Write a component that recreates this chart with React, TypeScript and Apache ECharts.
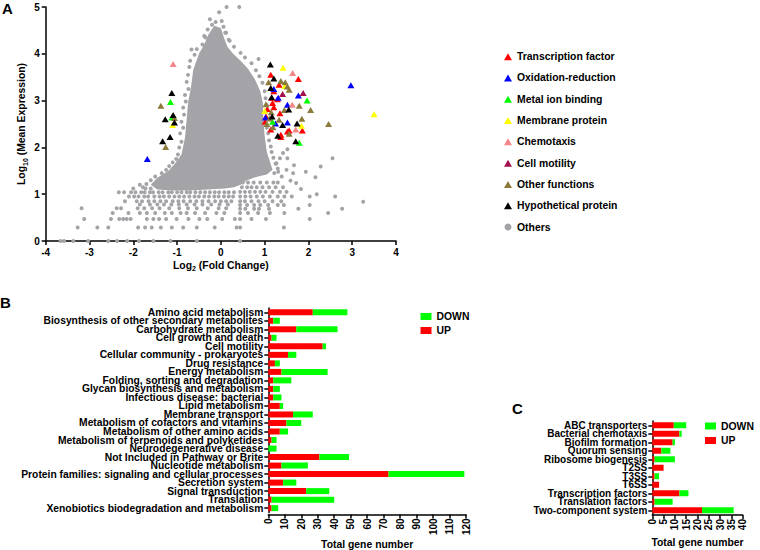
import React, { useEffect, useRef } from 'react';
import * as echarts from 'echarts';

const FONT = 'Liberation Sans, Arial, Helvetica, sans-serif';
const GRAY = '#a4a4a8';

// ---------- Panel A: dense core outline (log2 FC, log10 mean expression)
const CORE: number[][] = [
  [-0.15, 4.6], [0.0, 4.55], [0.07, 4.35], [0.15, 4.15], [0.28, 4.0], [0.45, 3.85], [0.62, 3.68], [0.78, 3.45],
  [0.9, 3.2], [0.96, 2.95], [0.97, 2.6], [1.0, 2.25], [1.05, 1.9], [1.12, 1.7], [1.18, 1.52], [1.05, 1.42],
  [0.85, 1.38], [0.6, 1.3], [0.45, 1.2], [0.3, 1.15], [0.1, 1.12], [-0.3, 1.1], [-0.7, 1.08], [-1.1, 1.08],
  [-1.45, 1.1], [-1.6, 1.2], [-1.45, 1.35], [-1.2, 1.5], [-1.05, 1.65], [-0.9, 1.85], [-0.82, 2.2], [-0.78, 2.6],
  [-0.75, 2.95], [-0.68, 3.3], [-0.63, 3.66], [-0.5, 4.0], [-0.38, 4.2], [-0.28, 4.42],
];

// ---------- Panel A: "Others" genes (grey dots outside the dense core)
const OTHERS_TOP: number[][] = [
  [0.13, 5.0], [0.42, 5.0], [-0.04, 4.89], [-0.25, 4.74], [-0.12, 4.68], [0.02, 4.7], [-0.2, 4.62], [0.06, 4.58],
  [-0.3, 4.52], [0.12, 4.45], [-0.38, 4.38], [0.18, 4.3],
];
const OTHERS_EDGE_L: number[][] = [
  [-0.35, 4.35], [-0.42, 4.2], [-0.55, 4.1], [-0.6, 3.98], [-0.67, 4.09], [-0.7, 3.85], [-0.72, 3.72], [-0.75, 3.55],
  [-0.78, 3.4], [-0.74, 3.25], [-0.82, 3.12], [-0.8, 2.98], [-0.86, 2.85], [-0.84, 2.7], [-0.9, 2.55], [-0.86, 2.42],
  [-0.93, 2.3], [-0.9, 2.12], [-0.95, 2.0], [-0.98, 1.85], [-1.02, 1.75], [-1.1, 1.68], [-1.18, 1.6], [-1.25, 1.52],
  [-1.35, 1.45], [-1.5, 1.38], [-1.6, 1.3], [-1.7, 1.22], [-1.78, 1.15], [-2.0, 1.12], [-1.85, 1.2], [-1.6, 1.12],
  [-1.72, 1.12],
];
const OTHERS_EDGE_R: number[][] = [
  [0.1, 4.45], [0.2, 4.28], [0.3, 4.15], [0.45, 4.02], [0.55, 3.92], [0.7, 3.8], [0.86, 3.89], [0.8, 3.65],
  [0.88, 3.52], [0.95, 3.38], [1.0, 3.2], [1.02, 3.05], [1.05, 2.9], [1.03, 2.75], [1.06, 2.6], [1.05, 2.42],
  [1.08, 2.3], [1.1, 2.15], [1.14, 2.02], [1.16, 1.9], [1.2, 1.78], [1.25, 1.65], [1.3, 1.55], [1.22, 1.45],
];
const OTHERS_RIGHT: number[][] = [
  [2.55, 1.77], [2.28, 1.59], [1.94, 1.48], [2.16, 1.36], [1.67, 1.62], [1.52, 1.96], [1.52, 1.77], [1.72, 1.24],
  [1.83, 1.11], [2.19, 1.0], [2.03, 0.95], [2.61, 0.95], [3.25, 0.84], [2.03, 0.77], [1.77, 0.69], [2.77, 0.69],
  [2.45, 0.6], [2.03, 0.47], [1.03, 0.47], [1.45, 0.6], [1.44, 0.29], [0.44, 0.29], [0.44, 0.0], [1.62, 0.95],
  [1.44, 0.77], [1.27, 1.66], [1.35, 1.77], [1.42, 1.88], [1.5, 1.52], [1.39, 1.38], [1.31, 1.48], [1.65, 1.45],
  [1.59, 1.29],
];
const OTHERS_FAN: number[][] = [
  [0.5, 1.25], [0.62, 1.25], [0.75, 1.25], [0.9, 1.25], [1.05, 1.25], [1.2, 1.25], [1.3, 1.25],
  [0.48, 1.15], [0.6, 1.15], [0.7, 1.15], [0.82, 1.15], [0.95, 1.15], [1.1, 1.15], [1.25, 1.15], [1.42, 1.15],
  [0.44, 1.05], [0.55, 1.05], [0.66, 1.05], [0.78, 1.05], [0.9, 1.05], [1.02, 1.05], [1.18, 1.05], [1.35, 1.05], [1.5, 1.05],
  [0.44, 0.95], [0.56, 0.95], [0.68, 0.95], [0.82, 0.95], [0.96, 0.95], [1.12, 0.95], [1.3, 0.95], [1.45, 0.95],
  [0.44, 0.85], [0.55, 0.85], [0.7, 0.85], [0.86, 0.85], [1.0, 0.85], [1.18, 0.85], [1.38, 0.85],
  [0.44, 0.77], [0.6, 0.77], [0.76, 0.77], [0.9, 0.77], [1.08, 0.77], [1.3, 0.77],
  [0.44, 0.69], [0.56, 0.69], [0.76, 0.69], [0.87, 0.69], [1.1, 0.69],
  [0.44, 0.6], [0.62, 0.6], [0.85, 0.6], [1.12, 0.6], [0.44, 0.47], [0.7, 0.47],
];
const OTHERS_LOW: number[][] = [
  [-2.33, 1.04], [-2.21, 1.04], [-2.05, 1.04], [-1.95, 1.04], [-1.82, 1.04], [-1.74, 1.04], [-1.62, 1.04],
  [-1.55, 1.04], [-1.42, 1.04], [-1.33, 1.04], [-1.2, 1.04], [-1.12, 1.04], [-1.0, 1.04], [-0.9, 1.04],
  [-0.78, 1.04], [-0.7, 1.04], [-0.58, 1.04], [-0.47, 1.04], [-0.36, 1.04], [-0.25, 1.04], [-0.14, 1.04],
  [-0.04, 1.04], [0.08, 1.04], [0.18, 1.04], [0.3, 1.04],
  [-2.1, 0.95], [-1.98, 0.95], [-1.88, 0.95], [-1.75, 0.95], [-1.66, 0.95], [-1.52, 0.95], [-1.4, 0.95],
  [-1.3, 0.95], [-1.18, 0.95], [-1.06, 0.95], [-0.95, 0.95], [-0.84, 0.95], [-0.72, 0.95], [-0.6, 0.95],
  [-0.5, 0.95], [-0.38, 0.95], [-0.27, 0.95], [-0.15, 0.95], [-0.05, 0.95], [0.07, 0.95], [0.18, 0.95], [0.28, 0.95],
  [-2.19, 0.85], [-1.92, 0.85], [-1.8, 0.85], [-1.65, 0.85], [-1.52, 0.85], [-1.38, 0.85], [-1.25, 0.85],
  [-1.1, 0.85], [-0.97, 0.85], [-0.85, 0.85], [-0.7, 0.85], [-0.56, 0.85], [-0.42, 0.85], [-0.28, 0.85],
  [-0.13, 0.85], [0.0, 0.85], [0.12, 0.85], [0.24, 0.85],
  [-1.85, 0.78], [-1.62, 0.78], [-1.45, 0.78], [-1.3, 0.78], [-1.13, 0.78], [-0.96, 0.78], [-0.78, 0.78],
  [-0.6, 0.78], [-0.42, 0.78], [-0.22, 0.78], [-0.03, 0.78], [0.16, 0.78],
  [-3.18, 0.7], [-2.38, 0.7], [-2.28, 0.7], [-1.9, 0.7], [-1.75, 0.7], [-1.57, 0.7], [-1.4, 0.7], [-1.18, 0.7],
  [-0.95, 0.7], [-0.75, 0.7], [-0.55, 0.7], [-0.3, 0.7], [-0.05, 0.7], [0.12, 0.7],
  [-2.47, 0.6], [-2.11, 0.6], [-1.85, 0.6], [-1.69, 0.6], [-1.5, 0.6], [-1.28, 0.6], [-1.12, 0.6], [-0.92, 0.6],
  [-0.78, 0.6], [-0.59, 0.6], [-0.36, 0.6], [-0.1, 0.6], [0.08, 0.6],
  [-3.12, 0.47], [-2.51, 0.47], [-2.32, 0.47], [-2.23, 0.47], [-2.15, 0.47], [-2.06, 0.47], [-1.69, 0.47],
  [-1.54, 0.47], [-1.41, 0.47], [-1.25, 0.47], [-1.01, 0.47], [-0.74, 0.47], [-0.49, 0.47], [-0.31, 0.47],
  [0.03, 0.47], [0.32, 0.47],
  [-3.27, 0.29], [-2.82, 0.29], [-2.57, 0.29], [-1.89, 0.29], [-1.73, 0.29], [-1.58, 0.29], [-1.37, 0.29],
  [-1.12, 0.29], [-0.86, 0.29], [-0.55, 0.29], [-0.14, 0.29], [0.36, 0.29],
  [-3.66, 0], [-3.58, 0], [-3.37, 0], [-3.03, 0], [-2.57, 0], [-2.37, 0], [-2.14, 0], [-1.87, 0], [-1.54, 0],
  [-1.15, 0], [-0.55, 0],
];
const OTHERS: number[][] = [...OTHERS_TOP, ...OTHERS_EDGE_L, ...OTHERS_EDGE_R, ...OTHERS_RIGHT, ...OTHERS_FAN, ...OTHERS_LOW];

// ---------- Panel A: highlighted gene groups
const TF: number[][] = [
  [1.14, 3.55], [1.77, 3.46], [1.33, 3.34], [1.21, 3.2], [1.29, 3.03], [1.16, 3.06], [1.18, 2.95], [1.21, 2.86],
  [1.06, 2.82], [1.35, 2.73], [1.03, 2.66], [1.01, 2.55], [1.14, 2.38], [1.37, 2.27], [1.37, 2.22], [1.52, 2.34],
  [1.56, 2.36], [1.86, 2.36],
];
const OXI: number[][] = [
  [1.21, 3.25], [1.31, 3.06], [1.77, 3.11], [1.52, 2.91], [1.25, 2.51], [1.52, 2.53], [1.02, 2.64], [2.97, 3.33], [-1.68, 1.75],
];
const METAL: number[][] = [[1.97, 3.0], [1.18, 2.55], [1.79, 2.1], [-1.15, 2.97], [-1.12, 2.64]];
const MEMB: number[][] = [[1.42, 3.7], [3.5, 2.71], [1.84, 2.46], [1.46, 3.31], [1.0, 2.78], [-1.1, 2.48]];
const CHEMO: number[][] = [[1.64, 3.59], [1.63, 2.91], [1.71, 2.38], [-1.09, 3.78]];
const MOTIL: number[][] = [[1.88, 3.16], [1.41, 3.14]];
const OTHERF: number[][] = [
  [1.09, 3.39], [1.37, 3.42], [1.47, 3.39], [1.52, 3.3], [1.56, 3.23], [1.03, 2.92], [1.79, 2.89], [2.05, 2.8],
  [1.45, 2.8], [1.11, 2.62], [1.33, 2.59], [1.85, 2.61], [2.46, 2.5], [1.19, 2.43], [1.56, 2.29], [1.05, 2.5],
  [1.15, 2.75], [-1.37, 2.89], [-1.06, 2.63], [-1.26, 2.01],
];
const HYPO: number[][] = [
  [1.13, 3.77], [1.21, 3.47], [1.14, 3.27], [1.16, 3.07], [1.55, 2.81], [1.17, 2.66], [1.74, 2.51], [1.41, 2.48],
  [1.3, 2.25], [1.71, 2.13], [-1.12, 3.16], [-1.09, 2.69], [-1.27, 2.6], [-1.06, 2.53], [-1.16, 2.22], [-1.33, 2.13],
];
const GROUP_NAMES = [
  'Transcription factor', 'Oxidation-reduction', 'Metal ion binding', 'Membrane protein',
  'Chemotaxis', 'Cell motility', 'Other functions', 'Hypothetical protein',
];
const GROUP_DATA = [TF, OXI, METAL, MEMB, CHEMO, MOTIL, OTHERF, HYPO];
const GROUP_COLORS = ['#ff0000', '#0000ff', '#00ff00', '#ffff00', '#f4868a', '#a3124f', '#8c7a3c', '#000000'];
const A_X_TICKS = [-4, 4, 1];
const A_Y_TICKS = [0, 5, 1];

// ---------- Panel B
const B_CATS = [
  'Amino acid metabolism', 'Biosynthesis of other secondary metabolites', 'Carbohydrate metabolism',
  'Cell growth and death', 'Cell motility', 'Cellular community - prokaryotes', 'Drug resistance',
  'Energy metabolism', 'Folding, sorting and degradation', 'Glycan biosynthesis and metabolism',
  'Infectious disease: bacterial', 'Lipid metabolism', 'Membrane transport',
  'Metabolism of cofactors and vitamins', 'Metabolism of other amino acids',
  'Metabolism of terpenoids and polyketides', 'Neurodegenerative disease', 'Not Included in Pathway or Brite',
  'Nucleotide metabolism', 'Protein families: signaling and cellular processes', 'Secretion system',
  'Signal transduction', 'Translation', 'Xenobiotics biodegradation and metabolism',
];
const B_UP = [27, 3, 17, 2, 33, 12, 4, 8, 3, 3, 3, 7, 15, 11, 7, 2, 0, 31, 8, 73, 9, 23, 2, 2];
const B_DOWN = [21, 4, 25, 3, 2, 5, 3, 28, 11, 4, 5, 2, 12, 9, 5, 3, 5, 18, 16, 46, 8, 14, 38, 4];
const B_X_TICKS = [0, 120, 10];

// ---------- Panel C
const C_CATS = [
  'ABC transporters', 'Bacterial chemotaxis', 'Biofilm formation', 'Quorum sensing', 'Ribosome biogenesis',
  'T2SS', 'T3SS', 'T6SS', 'Transcription factors', 'Translation factors', 'Two-component system',
];
const C_UP = [9.5, 12, 9, 4, 1, 5, 1, 3, 12, 1, 22];
const C_DOWN = [5.5, 1, 1, 4, 9, 0, 2, 0, 4, 8, 14];
const C_X_TICKS = [0, 40, 5];

const txt = (size: number) => ({ fontSize: size, fontWeight: 'bold' as const, color: '#000', fontFamily: FONT });
const axLine = { show: true, onZero: false, lineStyle: { color: '#000', width: 1.5 } };
const axTick = { show: true, length: 4, lineStyle: { color: '#000', width: 1.5 } };

function buildOption() {
  const subRich = {
    s: { fontSize: 7, fontWeight: 'bold', fontFamily: FONT, color: '#000', verticalAlign: 'bottom', lineHeight: 7 },
  };
  const aSeries: any[] = [
    {
      name: 'core', type: 'custom', xAxisIndex: 0, yAxisIndex: 0, silent: true, z: 1,
      data: [[0, 2.5]],
      renderItem: (_p: any, api: any) => ({
        type: 'polygon',
        shape: { points: CORE.map((pt) => api.coord(pt)) },
        style: { fill: GRAY },
      }),
    },
    {
      name: 'Others', type: 'scatter', xAxisIndex: 0, yAxisIndex: 0, data: OTHERS, symbol: 'circle',
      symbolSize: 4, itemStyle: { color: GRAY, opacity: 1 }, z: 2,
    },
    ...GROUP_NAMES.map((n, i) => ({
      name: n, type: 'scatter', xAxisIndex: 0, yAxisIndex: 0, data: GROUP_DATA[i], symbol: 'triangle',
      symbolSize: [7, 6], itemStyle: { color: GROUP_COLORS[i], opacity: 1 }, z: 3,
    })),
  ];
  const barSeries = (idx: number, stack: string, up: number[], down: number[]) => [
    { name: 'UP', type: 'bar', stack, xAxisIndex: idx, yAxisIndex: idx, data: up, barWidth: 6, itemStyle: { color: '#ff0000' } },
    { name: 'DOWN', type: 'bar', stack, xAxisIndex: idx, yAxisIndex: idx, data: down, barWidth: 6, itemStyle: { color: '#00ff00' } },
  ];
  const catAxis = (idx: number, cats: string[], size: number) => ({
    type: 'category', gridIndex: idx, data: cats, inverse: true,
    axisLine: axLine, axisTick: { ...axTick, alignWithLabel: true },
    axisLabel: { ...txt(size), interval: 0, margin: 5, lineHeight: 8.5 },
  });
  const valAxis = (idx: number, t: number[], offset: number) => ({
    type: 'value', gridIndex: idx, min: t[0], max: t[1], interval: t[2], offset,
    axisLine: axLine, axisTick: axTick, splitLine: { show: false },
    axisLabel: { ...txt(10), rotate: 90, margin: 4 },
    name: 'Total gene number', nameLocation: 'middle', nameGap: 22, nameTextStyle: txt(10.4),
  });
  return {
    animation: false,
    backgroundColor: '#fff',
    textStyle: { fontFamily: FONT },
    grid: [
      { left: 45.7, top: 7, width: 350.3, height: 234 },
      { left: 268.3, top: 308, width: 197.7, height: 206.4 },
      { left: 652.3, top: 421, width: 90.4, height: 93.5 },
    ],
    xAxis: [
      {
        type: 'value', gridIndex: 0, min: A_X_TICKS[0], max: A_X_TICKS[1], interval: A_X_TICKS[2],
        axisLine: axLine, axisTick: axTick, splitLine: { show: false },
        axisLabel: { ...txt(10), margin: 6 },
        name: 'Log{s|2} (Fold Change)', nameLocation: 'middle', nameGap: 17,
        nameTextStyle: { ...txt(10.4), lineHeight: 14, rich: subRich },
      },
      valAxis(1, B_X_TICKS, 2),
      valAxis(2, C_X_TICKS, 0.5),
    ],
    yAxis: [
      {
        type: 'value', gridIndex: 0, min: A_Y_TICKS[0], max: A_Y_TICKS[1], interval: A_Y_TICKS[2],
        axisLine: axLine, axisTick: axTick, splitLine: { show: false },
        axisLabel: { ...txt(10), margin: 6 },
        name: 'Log{s|10} (Mean Expression)', nameLocation: 'middle', nameGap: 17,
        nameTextStyle: { ...txt(10.4), lineHeight: 14, rich: subRich },
      },
      catAxis(1, B_CATS, 10.3),
      catAxis(2, C_CATS, 10),
    ],
    legend: [
      {
        orient: 'vertical', left: 499, top: 45.5, itemWidth: 8, itemHeight: 7, itemGap: 9,
        textStyle: { ...txt(10.4), lineHeight: 12.3 }, selectedMode: false,
        data: [...GROUP_NAMES.map((n) => ({ name: n, icon: 'triangle' })), { name: 'Others', icon: 'circle' }],
      },
      {
        orient: 'vertical', left: 415.5, top: 305.5, itemWidth: 11, itemHeight: 7, itemGap: 2,
        textStyle: { ...txt(10.4), lineHeight: 12 }, selectedMode: false,
        data: [{ name: 'DOWN', icon: 'rect' }, { name: 'UP', icon: 'rect' }],
      },
      {
        orient: 'vertical', left: 705, top: 420, itemWidth: 11, itemHeight: 7, itemGap: 2.5, padding: 0,
        textStyle: { ...txt(10.4), lineHeight: 12 }, selectedMode: false,
        data: [{ name: 'DOWN', icon: 'rect' }, { name: 'UP', icon: 'rect' }],
      },
    ],
    graphic: [
      { type: 'text', left: 2, top: 1, style: { text: 'A', ...txt(15), fill: '#000' } },
      { type: 'text', left: 0, top: 295, style: { text: 'B', ...txt(15), fill: '#000' } },
      { type: 'text', left: 512, top: 401, style: { text: 'C', ...txt(15), fill: '#000' } },
    ],
    series: [...aSeries, ...barSeries(1, 'b', B_UP, B_DOWN), ...barSeries(2, 'c', C_UP, C_DOWN)],
  };
}

export default function App() {
  const ref = useRef<HTMLDivElement>(null);
  useEffect(() => {
    document.body.style.margin = '0';
    const chart = echarts.init(ref.current!, null, { renderer: 'svg' });
    chart.setOption(buildOption() as any);
    return () => chart.dispose();
  }, []);
  return <div ref={ref} style={{ width: 760, height: 550 }} />;
}
